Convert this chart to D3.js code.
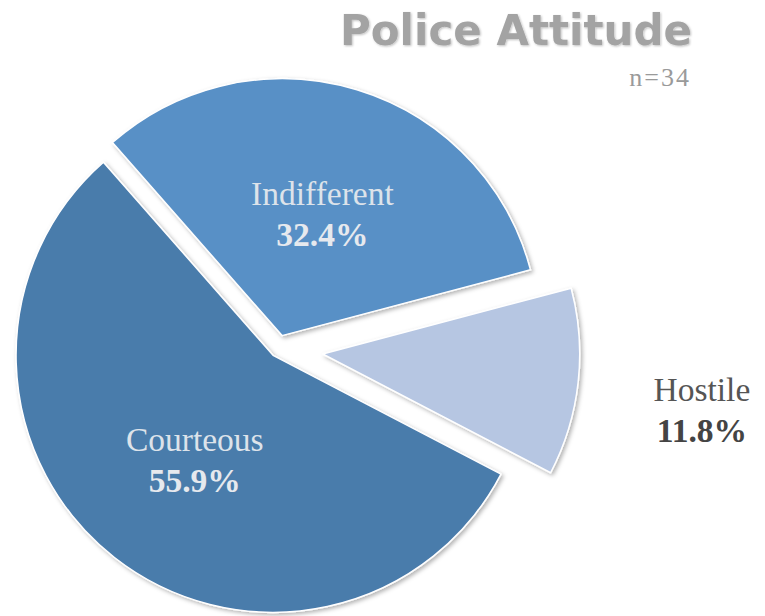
<!DOCTYPE html>
<html><head><meta charset="utf-8">
<script src="https://cdn.jsdelivr.net/npm/d3@7/dist/d3.min.js"></script>
<style>html,body{margin:0;padding:0;background:#fff;}svg{display:block;}</style>
</head><body>
<svg id="chart" width="765" height="616"></svg>
<script>
const categories = ["Indifferent", "Hostile", "Courteous"];
const counts = [11, 4, 19];
const percentLabels = ["32.4%", "11.8%", "55.9%"];
const colors = ["#5990c6", "#b6c6e2", "#4a7bab"];
const title = "Police Attitude";
const subtitle = "n=34";

const svg = d3.select("#chart");
const W = 765, H = 616;
const cx = 278, cy = 349, R = 257;
const explode = [14, 45, 8];
// label placement relative to slice apex: [angle(deg), distance]
const labelPos = [[20, 118], [100, 385], [214, 140]];
const labelColors = [["#dde3ea", "#e6e9ee"], ["#555555", "#444444"], ["#dde3ea", "#e6e9ee"]];

const defs = svg.append("defs");
const f = defs.append("filter").attr("id", "sh").attr("x", "-10%").attr("y", "-10%").attr("width", "130%").attr("height", "130%");
f.append("feDropShadow").attr("dx", 2).attr("dy", 2).attr("stdDeviation", 2).attr("flood-color", "#000").attr("flood-opacity", 0.3);
const tf = defs.append("filter").attr("id", "tsh").attr("x", "-5%").attr("y", "-20%").attr("width", "110%").attr("height", "150%");
tf.append("feDropShadow").attr("dx", 1).attr("dy", 1).attr("stdDeviation", 1).attr("flood-color", "#000").attr("flood-opacity", 0.25);

const pie = d3.pie().sort(null).value(d => d)
  .startAngle(-41.3 * Math.PI / 180).endAngle((360 - 41.3) * Math.PI / 180);
const arcs = pie(counts);
const arc = d3.arc().innerRadius(0).outerRadius(R);

const g = svg.append("g").attr("transform", `translate(${cx},${cy})`);
arcs.forEach((a, i) => {
  const mid = (a.startAngle + a.endAngle) / 2;
  const ox = Math.sin(mid) * explode[i], oy = -Math.cos(mid) * explode[i];
  const sg = g.append("g").attr("transform", `translate(${ox},${oy})`);
  sg.append("path").attr("d", arc(a)).attr("fill", colors[i])
    .attr("stroke", "#fff").attr("stroke-width", 1.5).attr("stroke-linejoin", "round")
    .attr("filter", "url(#sh)");
  const la = labelPos[i][0] * Math.PI / 180, ld = labelPos[i][1];
  const lx = Math.sin(la) * ld, ly = -Math.cos(la) * ld;
  sg.append("text").attr("x", lx).attr("y", ly - 20).attr("text-anchor", "middle")
    .attr("font-family", "Liberation Serif, serif").attr("font-size", 33.5)
    .attr("fill", labelColors[i][0]).text(categories[i]);
  sg.append("text").attr("x", lx).attr("y", ly + 21).attr("text-anchor", "middle")
    .attr("font-family", "Liberation Serif, serif").attr("font-size", 33.5).attr("font-weight", "bold")
    .attr("fill", labelColors[i][1]).text(percentLabels[i]);
});

svg.append("text").attr("x", 692).attr("y", 45).attr("text-anchor", "end")
  .attr("font-family", "DejaVu Sans, sans-serif").attr("font-weight", "bold").attr("font-size", 42)
  .attr("fill", "#a3a3a3").attr("filter", "url(#tsh)").text(title);
svg.append("text").attr("x", 691).attr("y", 86).attr("text-anchor", "end")
  .attr("font-family", "Liberation Serif, serif").attr("font-size", 26).attr("letter-spacing", 2)
  .attr("fill", "#9a9a9a").text(subtitle);
</script>
</body></html>
